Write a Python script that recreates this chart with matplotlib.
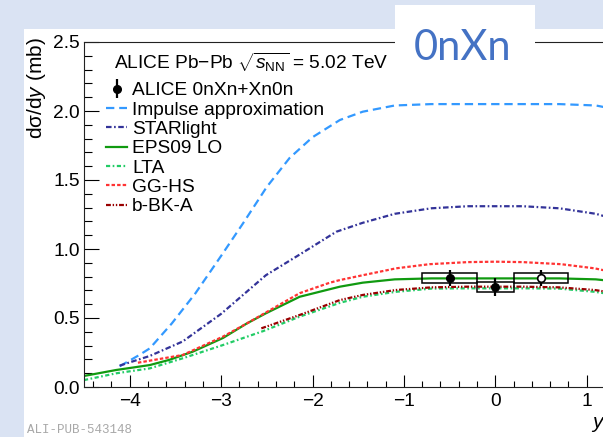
import numpy as np
import matplotlib.pyplot as plt
from matplotlib.patches import Rectangle
from matplotlib.ticker import MultipleLocator, FormatStrFormatter

plt.rcParams['font.family'] = ['Liberation Sans', 'DejaVu Sans']
plt.rcParams['mathtext.fontset'] = 'custom'
plt.rcParams['mathtext.rm'] = 'Liberation Sans'
plt.rcParams['mathtext.it'] = 'Liberation Sans:italic'
plt.rcParams['lines.scale_dashes'] = False

# model curves, dsigma/dy (mb) vs rapidity
imp_y = [-4.11, -3.9, -3.78, -3.54, -3.28, -3.0, -2.76, -2.5, -2.25, -2.0, -1.7, -1.45, -1.1, -0.7, -0.3,
         0.0, 0.3, 0.7, 1.1, 1.45, 1.7]
imp_v = [0.15, 0.23, 0.28, 0.46, 0.68, 0.95, 1.186, 1.45, 1.66, 1.81, 1.935, 1.995, 2.04, 2.05, 2.05,
         2.05, 2.05, 2.05, 2.04, 1.995, 1.935]

star_y = [-4.11, -3.78, -3.42, -3.0, -2.72, -2.51, -2.14, -1.74, -1.45, -1.1, -0.7, -0.3,
          0.0, 0.3, 0.7, 1.1, 1.45, 1.74]
star_v = [0.155, 0.225, 0.33, 0.53, 0.69, 0.81, 0.96, 1.125, 1.19, 1.255, 1.295, 1.31,
          1.31, 1.31, 1.295, 1.255, 1.19, 1.125]

eps_y = [-4.5, -4.15, -3.78, -3.57, -3.31, -2.98, -2.72, -2.51, -2.14, -1.7, -1.45, -1.1, -0.7, -0.3,
         0.0, 0.3, 0.7, 1.1, 1.45, 1.7]
eps_v = [0.08, 0.123, 0.159, 0.196, 0.256, 0.355, 0.46, 0.534, 0.654, 0.727, 0.756, 0.78, 0.787, 0.787,
         0.787, 0.787, 0.787, 0.78, 0.756, 0.727]

lta_y = [-4.5, -4.15, -3.78, -3.42, -2.98, -2.54, -2.14, -1.7, -1.45, -1.085, -0.7, -0.3,
         0.0, 0.3, 0.7, 1.085, 1.45, 1.7]
lta_v = [0.05, 0.099, 0.135, 0.208, 0.304, 0.405, 0.51, 0.61, 0.654, 0.69, 0.713, 0.715,
         0.715, 0.715, 0.713, 0.69, 0.654, 0.61]

gghs_y = [-3.91, -3.42, -2.98, -2.72, -2.51, -2.14, -1.81, -1.7, -1.45, -1.085, -0.72, -0.3,
          0.0, 0.3, 0.72, 1.085, 1.45, 1.7]
gghs_v = [0.176, 0.232, 0.365, 0.46, 0.54, 0.68, 0.756, 0.775, 0.81, 0.86, 0.89, 0.905,
          0.908, 0.905, 0.89, 0.86, 0.81, 0.775]

bbk_y = [-2.56, -2.14, -1.7, -1.45, -1.085, -0.7, -0.3, 0.0, 0.3, 0.7, 1.085, 1.45, 1.7]
bbk_v = [0.425, 0.522, 0.63, 0.667, 0.703, 0.722, 0.727, 0.727, 0.727, 0.722, 0.703, 0.667, 0.63]

# ALICE 0nXn+Xn0n measurement
pt_y = [-0.5, 0.0, 0.5]
pt_lo = [-0.8, -0.2, 0.2]
pt_hi = [-0.2, 0.2, 0.8]
pt_v = [0.79, 0.727, 0.79]
pt_stat = [0.06, 0.066, 0.06]
pt_sys = [0.033, 0.036, 0.033]

x_ticks = [-4, -3, -2, -1, 0, 1]

W, H = 603, 437
bg = '#dae3f3'


def fx(px):
    return px / W


def fy(py):
    return 1 - py / H


fig = plt.figure(figsize=(W / 100, H / 100), dpi=100, facecolor=bg)
fig.add_artist(Rectangle((fx(24), 0), 1 - fx(24), fy(29), transform=fig.transFigure,
                         facecolor='white', edgecolor='none', zorder=-1))

ppu = 91.4
ax = fig.add_axes([fx(84), fy(387), 9 * ppu / W, (387 - 42) / H])
ax.set_facecolor('white')

l_imp, = ax.plot(imp_y, imp_v, color='#3399ff', lw=1.6, ls=(0, (6, 3.5)))
l_star, = ax.plot(star_y, star_v, color='#333399', lw=1.6, ls=(0, (4, 1.8, 1.2, 1.8)))
l_eps, = ax.plot(eps_y, eps_v, color='#109a10', lw=1.6)
l_lta, = ax.plot(lta_y, lta_v, color='#22cc66', lw=1.6, ls=(0, (3, 1.8, 1.2, 1.8)))
l_gg, = ax.plot(gghs_y, gghs_v, color='#ff3333', lw=1.6, ls=(0, (2.5, 1.5)))
l_bbk, = ax.plot(bbk_y, bbk_v, color='#990000', lw=1.6, ls=(0, (3.5, 1.3, 1, 1.3, 1, 1.3)))

for lo, hi, v, s in zip(pt_lo, pt_hi, pt_v, pt_sys):
    ax.add_patch(Rectangle((lo, v - s), hi - lo, 2 * s, fill=False, ec='black', lw=1.1, zorder=4))

data = ax.errorbar(pt_y[:2], pt_v[:2], yerr=pt_stat[:2], fmt='o', color='black', ms=5.5,
                   elinewidth=1.6, capsize=0, zorder=5)
ax.errorbar(pt_y[2:], pt_v[2:], yerr=pt_stat[2:], fmt='o', color='black', mfc='white', mec='black',
            mew=1.2, ms=5.5, elinewidth=1.6, capsize=0, zorder=5)

ax.set_xlim(-4.5, 4.5)
ax.set_ylim(0, 2.5)
ax.set_xticks(x_ticks)
ax.xaxis.set_minor_locator(MultipleLocator(0.2))
ax.yaxis.set_major_locator(MultipleLocator(0.5))
ax.yaxis.set_minor_locator(MultipleLocator(0.1))
ax.yaxis.set_major_formatter(FormatStrFormatter('%.1f'))
ax.tick_params(axis='x', which='major', direction='in', length=8.6, width=0.8, labelsize=13.8, pad=4)
ax.tick_params(axis='x', which='minor', direction='in', length=4.3, width=0.8)
ax.tick_params(axis='y', which='major', direction='in', length=10.8, width=0.8, labelsize=13.8, pad=3)
ax.tick_params(axis='y', which='minor', direction='in', length=5.8, width=0.8)
for sp in ax.spines.values():
    sp.set_linewidth(0.8)
    sp.set_color('#222222')

handles = [data, l_imp, l_star, l_eps, l_lta, l_gg, l_bbk]
labels = ['ALICE 0nXn+Xn0n', 'Impulse approximation', 'STARlight', 'EPS09 LO', 'LTA', 'GG-HS', 'b-BK-A']
ax.legend(handles, labels, loc='upper left', bbox_to_anchor=(fx(106), fy(82)),
          bbox_transform=fig.transFigure, frameon=False, fontsize=13.8, handlelength=1.1,
          handletextpad=0.27, borderpad=0, borderaxespad=0, labelspacing=0.1)

fig.text(fx(114), fy(69), 'ALICE Pb\u2212Pb $\\sqrt{s_{\\mathrm{NN}}}$ = 5.02 TeV', fontsize=13.8,
         va='baseline', ha='left')
fig.text(fx(36), fy(37), 'd\u03c3/d$y$ (mb)', rotation=90, ha='center', va='top', fontsize=15)
fig.text(fx(597), fy(428), 'y', style='italic', fontsize=15, ha='center', va='baseline')
fig.text(fx(27), fy(430), 'ALI-PUB-543148', family='Liberation Mono', fontsize=9, color='#a8a8a8',
         va='center', ha='left')

# selection label box over the frame
fig.add_artist(Rectangle((fx(395), fy(80)), fx(535) - fx(395), fy(5) - fy(80), transform=fig.transFigure,
                         facecolor='white', edgecolor='none', zorder=10))
fig.text(fx(463), fy(60), '0nXn', family='Lato', fontsize=30, color='#4472c4',
         ha='center', va='baseline', zorder=11)

fig.savefig('out.png', dpi=100, facecolor=bg)
